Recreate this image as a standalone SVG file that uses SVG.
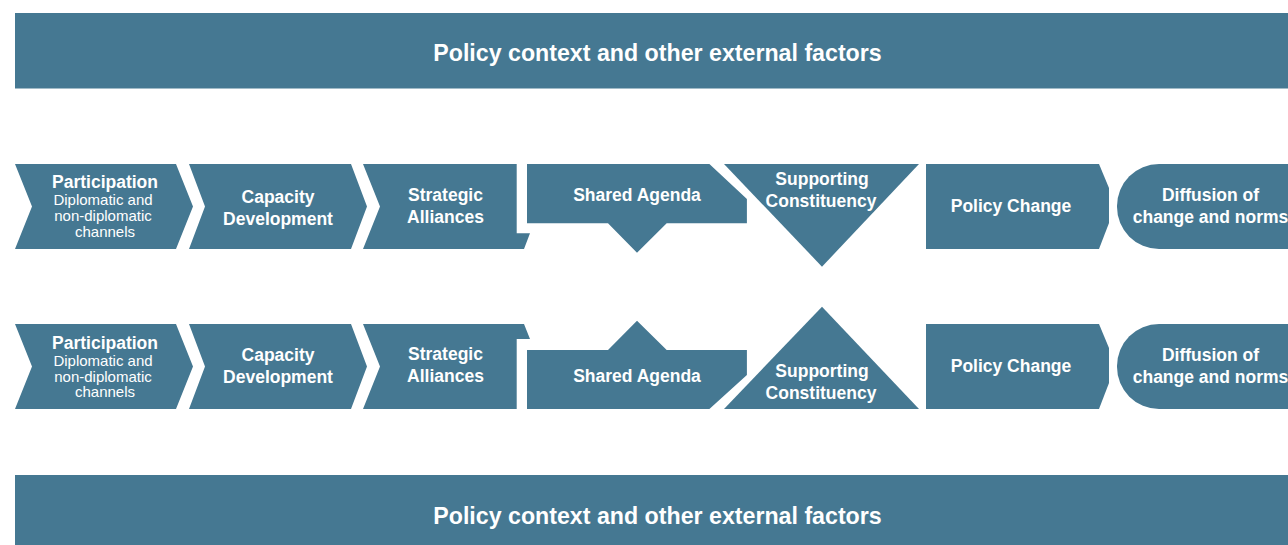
<svg xmlns="http://www.w3.org/2000/svg" width="1288" height="545" viewBox="0 0 1288 545">
  <style>
    .shape { fill: #457892; }
    .t { font-family: "Liberation Sans", Arial, sans-serif; font-weight: bold; font-size: 17.5px; fill: #ffffff; text-anchor: middle; }
    .s { font-family: "Liberation Sans", Arial, sans-serif; font-size: 15px; fill: #ffffff; text-anchor: middle; }
    .banner { font-family: "Liberation Sans", Arial, sans-serif; font-weight: bold; font-size: 23.2px; fill: #ffffff; text-anchor: middle; }
  </style>
  <rect width="1288" height="545" fill="#ffffff"/>

  <!-- top banner -->
  <g id="context-top">
    <rect class="shape" x="15" y="13" width="1273" height="75.5"/>
    <text class="banner" x="657.5" y="61">Policy context and other external factors</text>
  </g>

  <!-- upper sequence -->
  <g id="participation-1">
    <polygon class="shape" points="15,164 176,164 193,206.5 176,249 15,249 32,206.5"/>
    <text class="t" x="105" y="188">Participation</text>
    <text class="s" x="103" y="205">Diplomatic and</text>
    <text class="s" x="103" y="221">non-diplomatic</text>
    <text class="s" x="105" y="236.5">channels</text>
  </g>
  <g id="capacity-1">
    <polygon class="shape" points="189,164 351,164 367,206.5 351,249 189,249 205,206.5"/>
    <text class="t" x="278" y="202.5">Capacity</text>
    <text class="t" x="278" y="224.5">Development</text>
  </g>
  <g id="alliances-1">
    <polygon class="shape" points="363,164 516.7,164 516.7,233.3 530,233.3 524,249 363,249 380,206.5"/>
    <text class="t" x="445.5" y="201">Strategic</text>
    <text class="t" x="445.5" y="223">Alliances</text>
  </g>
  <g id="agenda-1">
    <polygon class="shape" points="527,164 709.4,164 746.9,199 746.9,223.3 666.7,223.3 637,252.7 608,223.3 527,223.3"/>
    <text class="t" x="637" y="201">Shared Agenda</text>
  </g>
  <g id="constituency-1">
    <polygon class="shape" points="724,164 919,164 822,266.7"/>
    <text class="t" x="822" y="185">Supporting</text>
    <text class="t" x="821" y="207">Constituency</text>
  </g>
  <g id="policy-change-1">
    <polygon class="shape" points="926,164 1099,164 1109,188 1109,223 1099,249 926,249"/>
    <text class="t" x="1011" y="212">Policy Change</text>
  </g>
  <g id="diffusion-1">
    <rect class="shape" x="1117" y="164" width="260" height="85" rx="42" ry="42"/>
    <text class="t" x="1210.5" y="201">Diffusion of</text>
    <text class="t" x="1210.5" y="223">change and norms</text>
  </g>

  <!-- lower sequence -->
  <g id="participation-2">
    <polygon class="shape" points="15,324 176,324 193,366.5 176,409 15,409 32,366.5"/>
    <text class="t" x="105" y="349">Participation</text>
    <text class="s" x="103" y="365.5">Diplomatic and</text>
    <text class="s" x="103" y="381.5">non-diplomatic</text>
    <text class="s" x="105" y="397">channels</text>
  </g>
  <g id="capacity-2">
    <polygon class="shape" points="189,324 351,324 367,366.5 351,409 189,409 205,366.5"/>
    <text class="t" x="278" y="361">Capacity</text>
    <text class="t" x="278" y="383">Development</text>
  </g>
  <g id="alliances-2">
    <polygon class="shape" points="363,324 524,324 530,339 516.7,339 516.7,409 363,409 380,366.5"/>
    <text class="t" x="445.5" y="360">Strategic</text>
    <text class="t" x="445.5" y="382">Alliances</text>
  </g>
  <g id="agenda-2">
    <polygon class="shape" points="527,350 608,350 637,320.7 666.7,350 746.9,350 746.9,375 709.4,409 527,409"/>
    <text class="t" x="637" y="382">Shared Agenda</text>
  </g>
  <g id="constituency-2">
    <polygon class="shape" points="822,306.7 919,409 724,409"/>
    <text class="t" x="822" y="377">Supporting</text>
    <text class="t" x="821" y="399">Constituency</text>
  </g>
  <g id="policy-change-2">
    <polygon class="shape" points="926,324 1099,324 1109,348 1109,383 1099,409 926,409"/>
    <text class="t" x="1011" y="372">Policy Change</text>
  </g>
  <g id="diffusion-2">
    <rect class="shape" x="1117" y="324" width="260" height="85" rx="42" ry="42"/>
    <text class="t" x="1210.5" y="361">Diffusion of</text>
    <text class="t" x="1210.5" y="383">change and norms</text>
  </g>

  <!-- bottom banner -->
  <g id="context-bottom">
    <rect class="shape" x="15" y="475" width="1273" height="70"/>
    <text class="banner" x="657.5" y="523.5">Policy context and other external factors</text>
  </g>
</svg>
